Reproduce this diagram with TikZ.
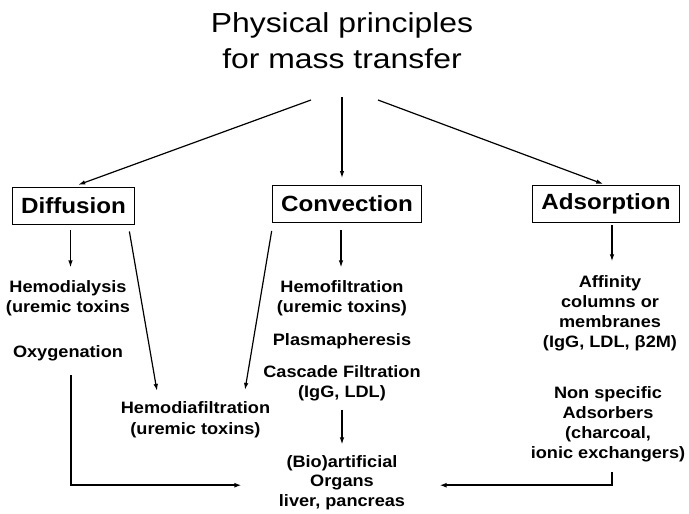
\documentclass[tikz,border=0pt]{standalone}
\usepackage{fontspec}
\setmainfont{Liberation Sans}[FakeStretch=1.1]
\newfontfamily\titlefont{Liberation Sans}[FakeStretch=1.16]
\usetikzlibrary{arrows.meta}

\tikzset{every picture/.style={line width=1.2pt},
  arr/.style={-{Latex[length=7pt,width=4.5pt]}},
  feed/.style={-{Latex[length=7pt,width=5pt]}, line width=2.2pt},
  box/.style={draw, line width=0.9pt, minimum height=37pt, inner xsep=9pt,
    font=\bfseries\fontsize{22}{26}\selectfont},
  lbl/.style={align=center, inner sep=0pt, anchor=base,
    font=\bfseries\fontsize{16.5}{20.5}\selectfont}}

\begin{document}
\begin{tikzpicture}[x=1pt,y=1pt,yscale=-1,xscale=1]
\useasboundingbox (0,0) rectangle (689,514);

% Text Node (base = last line)
\node (title) [anchor=base, inner sep=0pt, align=center, font=\titlefont\fontsize{27.5}{36}\selectfont]
  at (342,68) {Physical principles\\for mass transfer};
\coordinate (tl) at (311,100);
\coordinate (tm) at (342,97);
\coordinate (tr) at (378,100);

% Boxes
\node (diff) [box] at (73.5,205.5) {Diffusion};
\node (conv) [box] at (347,204) {Convection};
\node (ads) [box] at (606,204) {Adsorption};

% Text Node
\node (hd) [lbl] at (68,312.5) {Hemodialysis\\(uremic toxins};
\node (oxy) [lbl] at (68,357) {Oxygenation};
\node (hdf) [lbl] at (195.5,434) {Hemodiafiltration\\(uremic toxins)};
\node (hf) [lbl] at (342,312.5) {Hemofiltration\\(uremic toxins)};
\node (plasma) [lbl] at (342,345) {Plasmapheresis};
\node (cascade) [lbl] at (342,397.5) {Cascade Filtration\\(IgG, LDL)};
\node (organs) [lbl, font=\bfseries\fontsize{16.5}{19.5}\selectfont] at (342,506) {(Bio)artificial\\Organs\\liver, pancreas};
\node (affinity) [lbl, font=\bfseries\fontsize{16.5}{19.7}\selectfont] at (610,347) {Affinity\\columns or\\membranes\\(IgG, LDL, β2M)};
\node (nonspec) [lbl, font=\bfseries\fontsize{16.5}{20}\selectfont] at (608,458) {Non specific\\Adsorbers\\(charcoal,\\ionic exchangers)};

%Straight Lines
\draw [arr, shorten >=5pt] (tl) -- (diff.north);
\draw [arr, shorten >=7pt] (tm) -- (tm |- conv.north);
\draw [arr, shorten >=3pt] (tr) -- (ads.north);

\draw [arr, shorten <=6pt, shorten >=12pt] ([xshift=-3pt]diff.south) -- ([xshift=-3pt]diff.south |- hd.north);
\draw [arr, shorten <=7pt, shorten >=12pt] ([xshift=-6pt]conv.south) -- ([xshift=-6pt]conv.south |- hf.north);
\draw [arr, shorten <=2pt, shorten >=14pt] ([xshift=6pt]ads.south) -- ([xshift=6pt]ads.south |- affinity.north);
\draw [arr] ([shift={(-6,7)}]diff.south east) -- ([shift={(-38.5,-10)}]hdf.north);
\draw [arr] ([yshift=8pt]conv.south west) -- ([shift={(49.5,-11)}]hdf.north);
\draw [arr, shorten <=8pt, shorten >=10pt] (cascade.south) -- (cascade.south |- organs.north);

%Feed lines
\draw [feed] ([shift={(3,14)}]oxy.south) |- ([shift={(-37,3)}]organs.west);
\draw [feed] ([shift={(4,10)}]nonspec.south) |- ([shift={(34,3)}]organs.east);
\end{tikzpicture}
\end{document}
